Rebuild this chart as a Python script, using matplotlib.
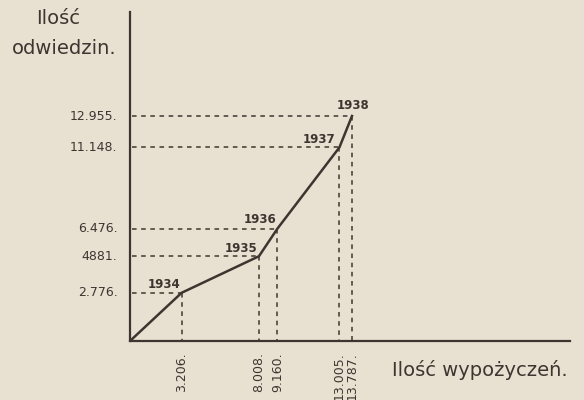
import matplotlib
matplotlib.use("Agg")
import matplotlib.pyplot as plt
import numpy as np

# ---- data ----
years = ["1934", "1935", "1936", "1937", "1938"]
loans = [3206, 8008, 9160, 13005, 13787]          # Ilość wypożyczeń (x)
visits = [2776, 4881, 6476, 11148, 12955]         # Ilość odwiedzin (y)
x_labels = ["3.206.", "8.008.", "9.160.", "13.005.", "13.787."]
y_labels = ["2.776.", "4881.", "6.476.", "11.148.", "12.955."]

bg = "#e8e1d2"
ink = "#3f3530"

fig = plt.figure(figsize=(5.84, 4.0), dpi=100, facecolor=bg)
ax = fig.add_axes([130/584, 1 - 341/400, 440/584, 329/400])
ax.set_facecolor(bg)

xmax = 13787 * 440 / 222
ymax = 12955 * 329 / 225
ax.set_xlim(0, xmax)
ax.set_ylim(0, ymax)

for s in ["top", "right"]:
    ax.spines[s].set_visible(False)
for s in ["left", "bottom"]:
    ax.spines[s].set_color(ink)
    ax.spines[s].set_linewidth(1.6)
ax.set_xticks([])
ax.set_yticks([])

# guide lines
for xv, yv in zip(loans, visits):
    ax.plot([120, xv], [yv, yv], color=ink, lw=1.1, ls=(0, (3, 3)), zorder=1)
    ax.plot([xv, xv], [yv, 0], color=ink, lw=1.1, ls=(0, (3, 3)), zorder=1)

# main line from origin
ax.plot(np.concatenate([[0], loans]), np.concatenate([[0], visits]),
        color=ink, lw=1.8, solid_joinstyle="round", zorder=3)

# year labels
offsets = {"1934": (-1, 1, "right"), "1935": (-1, 1, "right"),
           "1936": (-1, 2, "right"), "1937": (-3, 1, "right"),
           "1938": (1, 3, "center")}
for yr, xv, yv in zip(years, loans, visits):
    dx, dy, ha = offsets[yr]
    ax.annotate(yr, (xv, yv), xytext=(dx, dy), textcoords="offset points",
                ha=ha, va="bottom", fontsize=8.5, fontweight="bold",
                color=ink, family="DejaVu Sans Condensed")

# y tick labels
for yv, lab in zip(visits, y_labels):
    ax.annotate(lab, (0, yv), xytext=(-9, 0), textcoords="offset points",
                ha="right", va="center", fontsize=9, color=ink,
                family="DejaVu Sans", annotation_clip=False)

# x tick labels
for xv, lab in zip(loans, x_labels):
    ax.annotate(lab, (xv, 0), xytext=(0, -8), textcoords="offset points",
                ha="center", va="top", rotation=90, fontsize=9, color=ink,
                family="DejaVu Sans", annotation_clip=False)

# axis titles
fig.text(58/584, 1 - 18/400, "Ilość", ha="center", va="center",
         fontsize=14, color=ink, family="DejaVu Sans")
fig.text(64/584, 1 - 48/400, "odwiedzin.", ha="center", va="center",
         fontsize=14, color=ink, family="DejaVu Sans")
fig.text(480/584, 1 - 370/400, "Ilość wypożyczeń.", ha="center", va="center",
         fontsize=14, color=ink, family="DejaVu Sans")

fig.savefig("out.png", dpi=100, facecolor=bg)
